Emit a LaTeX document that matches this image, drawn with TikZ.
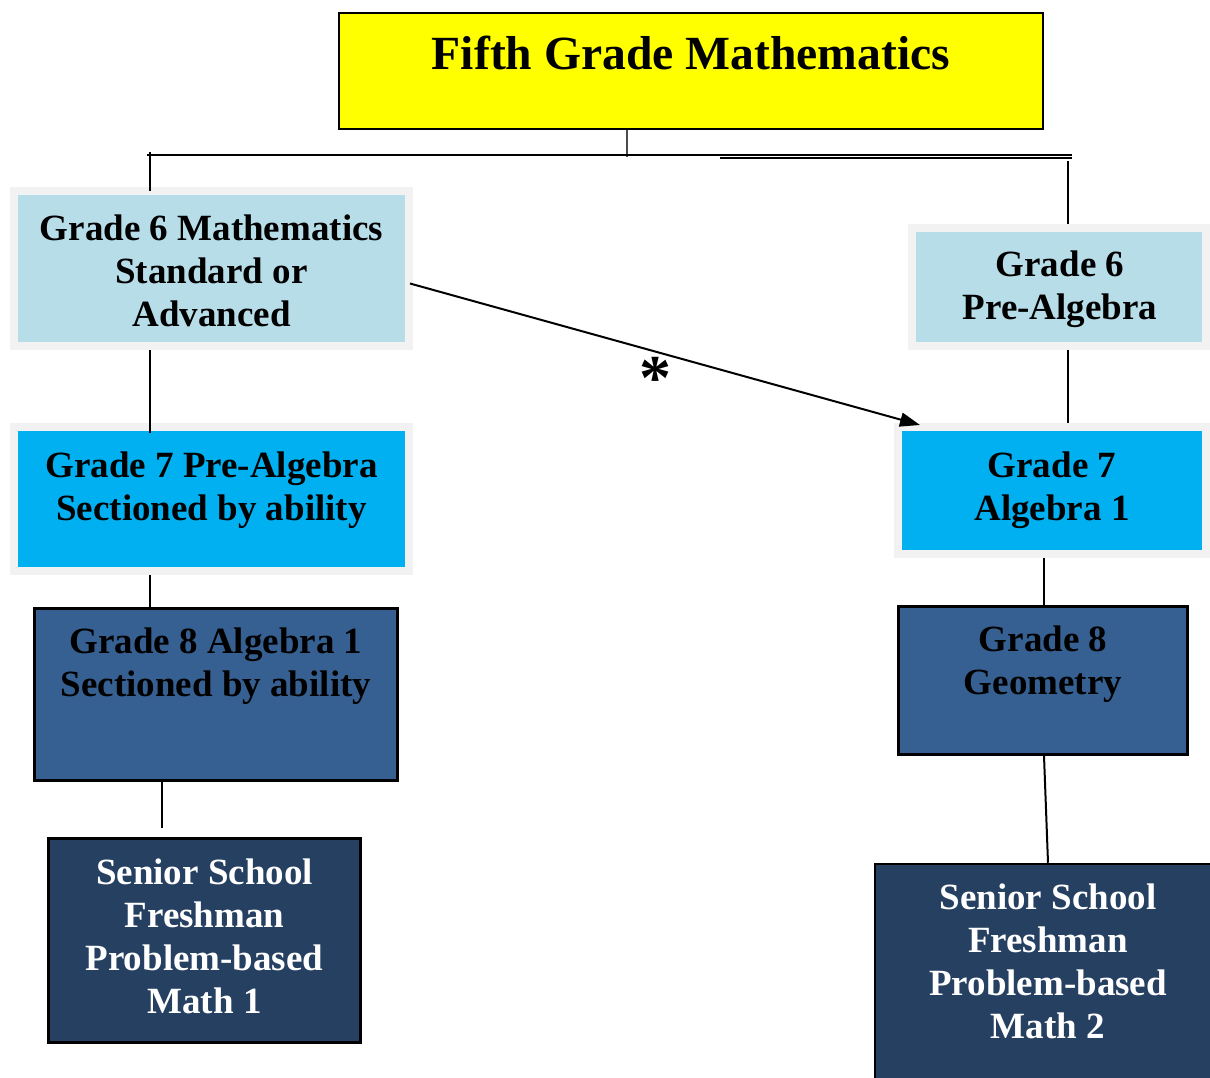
\documentclass[tikz,border=0pt]{standalone}
\usepackage{fontspec}
\setmainfont{Liberation Serif}
\usetikzlibrary{calc,arrows.meta,positioning}
\definecolor{titleyellow}{RGB}{255,255,0}
\definecolor{framegray}{RGB}{242,242,242}
\definecolor{paleblue}{RGB}{183,221,232}
\definecolor{skyblue}{RGB}{0,176,240}
\definecolor{steelblue}{RGB}{54,96,146}
\definecolor{navyblue}{RGB}{38,64,97}

\begin{document}
\begin{tikzpicture}[x=1pt, y=-1pt]
        \tikzstyle{greybox}=[rectangle, draw=framegray, line width=8pt, inner sep=0pt]
        \tikzstyle{darkbox}=[rectangle, draw=black, line width=2.5pt, inner sep=0pt]
        \tikzstyle{boxtext}=[align=center, inner sep=0pt, font=\bfseries\fontsize{37}{43}\selectfont]
        \tikzstyle{link}=[line width=2pt]

        % Page frame
        \useasboundingbox (0,0) rectangle (1210,1078);
        \clip (0,0) rectangle (1210,1078);

        % Title box
        \node[darkbox, line width=2pt, fill=titleyellow, minimum width=704pt, minimum height=116pt] (title) at (691,71) {};
        \node[boxtext, font=\bfseries\fontsize{47.6}{57}\selectfont] (title-text) at ($(title.center)+(0,-18)$) {Fifth Grade Mathematics};

        % Grade 6
        \node[greybox, fill=paleblue, minimum width=395pt, minimum height=155pt] (g6std) at (211.5,268.5) {};
        \node[boxtext] (g6std-text) at ($(g6std.center)+(0,2)$) {Grade 6 Mathematics\\Standard or\\Advanced};
        \node[greybox, fill=paleblue, minimum width=294pt, minimum height=118pt] (g6pre) at (1059,287) {};
        \node[boxtext] (g6pre-text) at ($(g6pre.center)+(1,2)$) {Grade 6\\Pre-Algebra};

        % Grade 7
        \node[greybox, fill=skyblue, minimum width=395pt, minimum height=144pt] (g7pre) at (211.5,499) {};
        \node[boxtext] (g7pre-text) at ($(g7pre.center)+(0,-9)$) {Grade 7 Pre-Algebra\\Sectioned by ability};
        \node[greybox, fill=skyblue, minimum width=308pt, minimum height=127pt] (g7alg) at (1052,490.5) {};
        \node[boxtext] (g7alg-text) at (g7alg.center) {Grade 7\\Algebra 1};

        % Grade 8
        \node[darkbox, fill=steelblue, minimum width=363pt, minimum height=172pt] (g8alg) at (216,694.5) {};
        \node[boxtext] (g8alg-text) at ($(g8alg.center)+(0,-28)$) {Grade 8 Algebra 1\\Sectioned by ability};
        \node[darkbox, fill=steelblue, minimum width=289pt, minimum height=148pt] (g8geo) at (1043,680.5) {};
        \node[boxtext] (g8geo-text) at ($(g8geo.center)+(0,-16)$) {Grade 8\\Geometry};

        % Senior school
        \node[darkbox, fill=navyblue, minimum width=312pt, minimum height=204pt] (ss1) at (204.5,940.5) {};
        \node[boxtext, text=white] (ss1-text) at ($(ss1.center)+(0,-4)$) {Senior School\\Freshman\\Problem-based\\Math 1};
        \node[darkbox, fill=navyblue, minimum width=360pt, minimum height=236pt] (ss2) at (1055,982) {};
        \node[boxtext, text=white] (ss2-text) at (1048,961) {Senior School\\Freshman\\Problem-based\\Math 2};

        % Branch points
        \coordinate (trunk) at (627,157);
        \coordinate (busL) at (147,155);
        \coordinate (busR) at (1072,155);
        \coordinate (dropL) at (150,152);
        \coordinate (dropR) at (1068,161);
        \coordinate (colL) at (150,0);
        \coordinate (colL2) at (162,0);
        \coordinate (colR) at (1068,0);
        \coordinate (colR2) at (1044,0);
        \coordinate (colR3) at (1048,0);

        % Top bus
        \draw[line width=1.5pt, black!70] (title.south -| trunk) -- (trunk);
        \draw[link] (busL) -- (busR);
        \draw[link] ($(busR)+(-352,3)$) -- ($(busR)+(0,3)$);
        \draw[link] (dropL) -- ($(g6std.north -| dropL)+(0,4)$);
        \draw[link] (dropR) -- (g6pre.north -| dropR);

        % Left column
        \draw[link] (g6std.south -| colL) -- ($(g7pre.north -| colL)+(0,10)$);
        \draw[link] (g7pre.south -| colL) -- (g8alg.north -| colL);
        \draw[link] (g8alg.south -| colL2) -- ($(ss1.north -| colL2)+(0,-9)$);

        % Right column
        \draw[link] (g6pre.south -| colR) -- (g7alg.north -| colR);
        \draw[link] (g7alg.south -| colR2) -- (g8geo.north -| colR2);
        \draw[link] (g8geo.south -| colR2) -- (ss2.north -| colR3);

        % Cross path
        \draw[link, -{Triangle[length=20pt, width=14pt]}] ($(g6std.east)+(-3,15)$) -- ($(g7alg.north west)+(26,2)$);
        \node[font=\bfseries\fontsize{64}{64}\selectfont, inner sep=0pt] (star) at (655,378) {*};
\end{tikzpicture}
\end{document}
